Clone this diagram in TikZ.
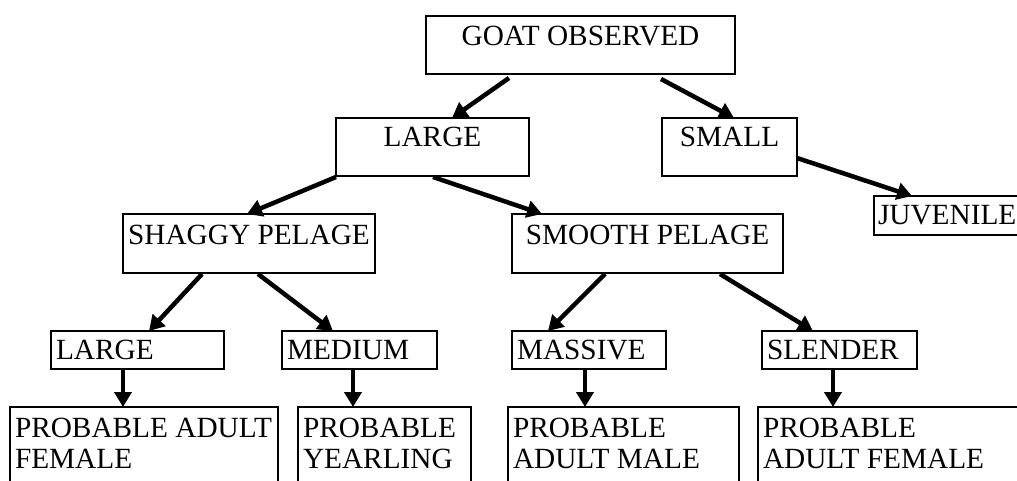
\documentclass[tikz,border=0pt]{standalone}
\usepackage{fontspec}
\setmainfont{Liberation Serif}
\usetikzlibrary{arrows.meta}
\newcommand\boxline[2]{\hbox to #1{\hspace{5pt}#2\hfil}}
\begin{document}
\begin{tikzpicture}[x=1pt,y=-1pt,
  box/.style={draw, line width=1.5pt, rectangle, inner sep=0pt, outer sep=0pt,
    anchor=north west, font=\fontsize{29.3}{31}\selectfont},
  arr/.style={line width=4.5pt, -{Triangle[length=15pt,width=17pt]}},
]
\useasboundingbox (0,0) rectangle (1017,481);
\clip (0,0) rectangle (1017,481);

% level 0
\node[box, minimum width=309pt, text height=30pt, text depth=28pt] (goat) at (426,16) {GOAT OBSERVED};
% level 1
\node[box, minimum width=193pt, text height=29pt, text depth=29pt] (large1) at (336,118) {LARGE};
\node[box, minimum width=135pt, text height=29pt, text depth=29pt] (small) at (662,118) {SMALL};
% level 2
\node[box, minimum width=252pt, text height=30pt, text depth=29pt] (shaggy) at (123,214) {SHAGGY PELAGE};
\node[box, minimum width=271pt, text height=30pt, text depth=29pt] (smooth) at (512,214) {SMOOTH PELAGE};
\node[box, text height=29pt, text depth=10pt] (juv) at (874,196) {\hbox to 200pt{\hspace{4pt}JUVENILE\hfil}};
% level 3
\node[box, text height=28pt, text depth=10pt] (lg) at (51,331) {\boxline{173pt}{LARGE}};
\node[box, text height=28pt, text depth=10pt] (med) at (282,331) {\boxline{155pt}{MEDIUM}};
\node[box, text height=28pt, text depth=10pt] (mas) at (512,331) {\boxline{154pt}{MASSIVE}};
\node[box, text height=28pt, text depth=10pt] (sle) at (762,331) {\boxline{155pt}{SLENDER}};
% level 4
\node[box, text height=30pt, text depth=70pt] (paf) at (10,407)
  {\vtop{\boxline{268pt}{PROBABLE ADULT}\boxline{268pt}{FEMALE}}};
\node[box, text height=30pt, text depth=70pt] (py) at (298,407)
  {\vtop{\boxline{173pt}{PROBABLE}\boxline{173pt}{YEARLING}}};
\node[box, text height=30pt, text depth=70pt] (pam) at (508,407)
  {\vtop{\boxline{231pt}{PROBABLE}\boxline{231pt}{ADULT MALE}}};
\node[box, text height=30pt, text depth=70pt] (paf2) at (758,407)
  {\vtop{\boxline{300pt}{PROBABLE}\boxline{300pt}{ADULT FEMALE}}};

% connectors
\draw[arr] ([xshift=83pt,yshift=-4pt]goat.south west) -- ([xshift=116pt]large1.north west);
\draw[arr] ([xshift=235pt,yshift=-5pt]goat.south west) -- ([xshift=72pt]small.north west);
\draw[arr] ([yshift=-1pt]large1.south west) -- ([xshift=124pt]shaggy.north west);
\draw[arr] ([xshift=97pt,yshift=-1pt]large1.south west) -- ([xshift=30pt]smooth.north west);
\draw[arr] ([yshift=18pt]small.south east) -- ([xshift=38pt]juv.north west);
\draw[arr] ([xshift=79pt,yshift=-1pt]shaggy.south west) -- ([xshift=98pt]lg.north west);
\draw[arr] ([xshift=135pt,yshift=-1pt]shaggy.south west) -- ([xshift=51pt]med.north west);
\draw[arr] ([xshift=93pt,yshift=-1pt]smooth.south west) -- ([xshift=36pt]mas.north west);
\draw[arr] ([xshift=208pt,yshift=-1pt]smooth.south west) -- ([xshift=51pt]sle.north west);
\draw[arr] ([xshift=72pt]lg.south west) -- ([xshift=113pt]paf.north west);
\draw[arr] ([xshift=71pt]med.south west) -- ([xshift=55pt]py.north west);
\draw[arr] ([xshift=73pt]mas.south west) -- ([xshift=77pt]pam.north west);
\draw[arr] ([xshift=71pt]sle.south west) -- ([xshift=75pt]paf2.north west);
\end{tikzpicture}
\end{document}
